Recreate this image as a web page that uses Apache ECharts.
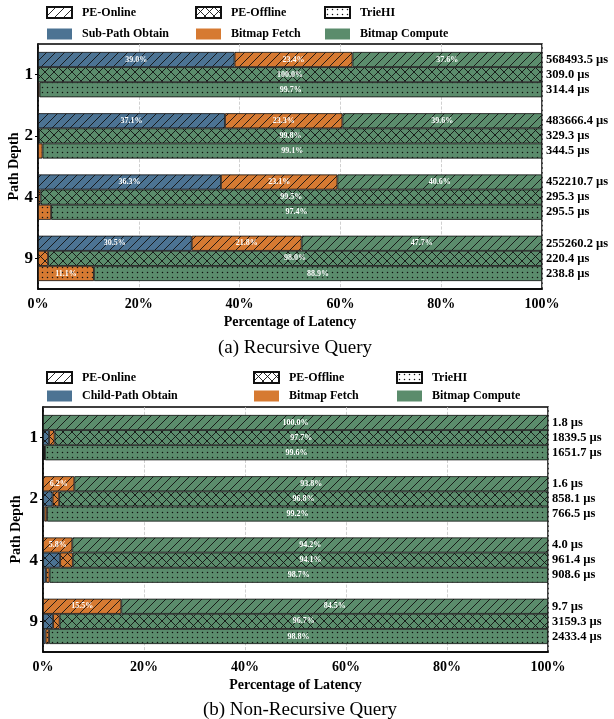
<!DOCTYPE html>
<html>
<head>
<meta charset="utf-8">
<script src="https://cdn.jsdelivr.net/npm/echarts@6/dist/echarts.min.js"></script>
<style>
  html, body { margin: 0; padding: 0; background: #fff; }
  #chart { width: 614px; height: 719px; }
</style>
</head>
<body>
<div id="chart"></div>
<script>
  const depths = ['1', '2', '4', '9']

  // (a) Recursive Query, percentages per stage
  const recOnlineObtain = [39.0, 37.1, 36.3, 30.5]
  const recOnlineFetch = [23.4, 23.3, 23.1, 21.8]
  const recOnlineCompute = [37.6, 39.6, 40.6, 47.7]
  const recOfflineObtain = [0, 0, 0, 0]
  const recOfflineFetch = [0, 0.2, 0.5, 2.0]
  const recOfflineCompute = [100.0, 99.8, 99.5, 98.0]
  const recTrieObtain = [0, 0, 0, 0]
  const recTrieFetch = [0.3, 0.9, 2.6, 11.1]
  const recTrieCompute = [99.7, 99.1, 97.4, 88.9]
  const recOnlineTotal = ['568493.5', '483666.4', '452210.7', '255260.2']
  const recOfflineTotal = ['309.0', '329.3', '295.3', '220.4']
  const recTrieTotal = ['314.4', '344.5', '295.5', '238.8']

  // (b) Non-Recursive Query
  const nrOnlineObtain = [0, 0, 0, 0]
  const nrOnlineFetch = [0, 6.2, 5.8, 15.5]
  const nrOnlineCompute = [100.0, 93.8, 94.2, 84.5]
  const nrOfflineObtain = [1.2, 1.9, 3.4, 2.0]
  const nrOfflineFetch = [1.1, 1.3, 2.5, 1.3]
  const nrOfflineCompute = [97.7, 96.8, 94.1, 96.7]
  const nrTrieObtain = [0.2, 0.3, 0.6, 0.5]
  const nrTrieFetch = [0.2, 0.5, 0.7, 0.7]
  const nrTrieCompute = [99.6, 99.2, 98.7, 98.8]
  const nrOnlineTotal = ['1.8', '1.6', '4.0', '9.7']
  const nrOfflineTotal = ['1839.5', '858.1', '961.4', '3159.3']
  const nrTrieTotal = ['1651.7', '766.5', '908.6', '2433.4']

  const FONT = '"Liberation Serif", "Times New Roman", serif'
  const BLUE = '#4c7393'
  const ORANGE = '#d67a32'
  const GREEN = '#5b8c6c'

  // hatch tiles drawn on a small canvas, used as pattern fill
  function tile(bg, kind) {
    let s = kind === 'dots' ? 5 : 9
    let c = document.createElement('canvas')
    c.width = s
    c.height = kind === 'dots' ? 5 : s
    let ctx = c.getContext('2d')
    ctx.fillStyle = bg
    ctx.fillRect(0, 0, c.width, c.height)
    ctx.strokeStyle = '#111'
    ctx.fillStyle = '#111'
    ctx.lineWidth = 0.9
    if (kind === 'dots') {
      ctx.beginPath()
      ctx.arc(2.5, 2.5, 0.75, 0, Math.PI * 2)
      ctx.fill()
      return c
    }
    for (let dx of [-s, 0, s]) {
      ctx.beginPath()
      ctx.moveTo(dx, s)
      ctx.lineTo(dx + s, 0)
      ctx.stroke()
      if (kind === 'cross') {
        ctx.beginPath()
        ctx.moveTo(dx, 0)
        ctx.lineTo(dx + s, s)
        ctx.stroke()
      }
    }
    return c
  }

  function pattern(bg, kind) {
    return { image: tile(bg, kind), repeat: 'repeat' }
  }

  function seg(grid, stack, name, color, vals) {
    return {
      type: 'bar',
      name: name,
      stack: grid + stack,
      xAxisIndex: grid,
      yAxisIndex: grid,
      barGap: '0%',
      barCategoryGap: '26%',
      silent: true,
      data: vals.map(v => v === 0 ? '-' : v),
      itemStyle: { color: color, borderColor: '#111', borderWidth: 0.8 },
      label: {
        show: true,
        position: 'inside',
        color: '#fff',
        fontSize: 8,
        fontWeight: 'bold',
        fontFamily: FONT,
        formatter: p => p.value >= 5 ? p.value.toFixed(1) + '%' : ''
      }
    }
  }

  function totalSeries(grid, stack, totals) {
    return {
      type: 'bar',
      name: grid + stack + 'total',
      stack: grid + stack,
      xAxisIndex: grid,
      yAxisIndex: grid,
      barGap: '0%',
      barCategoryGap: '26%',
      silent: true,
      data: totals.map(() => 0),
      itemStyle: { color: 'transparent', borderWidth: 0 },
      label: {
        show: true,
        position: 'right',
        distance: 4,
        color: '#000',
        fontSize: 12.5,
        fontWeight: 'bold',
        fontFamily: FONT,
        formatter: p => totals[p.dataIndex] + ' µs'
      }
    }
  }

  function group(grid, stack, kind, obtain, fetch, compute, totals) {
    return [
      seg(grid, stack, grid + stack + 'o', pattern(BLUE, kind), obtain),
      seg(grid, stack, grid + stack + 'f', pattern(ORANGE, kind), fetch),
      seg(grid, stack, grid + stack + 'c', pattern(GREEN, kind), compute),
      totalSeries(grid, stack, totals)
    ]
  }

  // empty series only there for the legend swatches
  function legendSeries(grid, name, color, border) {
    return {
      type: 'bar',
      name: name,
      stack: grid + 'online',
      xAxisIndex: grid,
      yAxisIndex: grid,
      data: [],
      itemStyle: { color: color, borderColor: '#111', borderWidth: border ? 0.8 : 0 }
    }
  }

  function legend(left, top, gap, names) {
    return {
      orient: 'vertical',
      left: left,
      top: top,
      padding: 0,
      itemGap: gap,
      itemWidth: 25,
      itemHeight: 11,
      icon: 'rect',
      selectedMode: false,
      data: names,
      textStyle: { fontFamily: FONT, fontWeight: 'bold', fontSize: 12, color: '#000', padding: [0, 0, 0, 5] }
    }
  }

  function xAxis(grid) {
    return {
      type: 'value',
      gridIndex: grid,
      min: 0,
      max: 100,
      interval: 20,
      name: 'Percentage of Latency',
      nameLocation: 'middle',
      nameGap: 26,
      nameTextStyle: { fontFamily: FONT, fontWeight: 'bold', fontSize: 14, color: '#000' },
      axisLine: { show: true, lineStyle: { color: '#000', width: 1.5 } },
      axisTick: { show: false },
      axisLabel: { formatter: '{value}%', fontFamily: FONT, fontWeight: 'bold', fontSize: 14, color: '#000', margin: 8 },
      splitLine: { show: true, lineStyle: { color: '#c4c4c4', type: 'dashed', width: 0.8 } }
    }
  }

  function yAxis(grid, gap) {
    return {
      type: 'category',
      gridIndex: grid,
      data: depths,
      inverse: true,
      name: 'Path Depth',
      nameLocation: 'middle',
      nameGap: gap,
      nameMoveOverlap: false,
      nameTextStyle: { fontFamily: FONT, fontWeight: 'bold', fontSize: 14, color: '#000' },
      axisLine: { show: true, lineStyle: { color: '#000', width: 1.5 } },
      axisTick: { show: true, alignWithLabel: true, length: 3, lineStyle: { color: '#000' } },
      axisLabel: { fontFamily: FONT, fontWeight: 'bold', fontSize: 17, color: '#000', margin: 5 },
      splitLine: { show: false }
    }
  }

  let myChart = echarts.init(document.getElementById('chart'))

  let series = [].concat(
    group(0, 'online', 'hatch', recOnlineObtain, recOnlineFetch, recOnlineCompute, recOnlineTotal),
    group(0, 'offline', 'cross', recOfflineObtain, recOfflineFetch, recOfflineCompute, recOfflineTotal),
    group(0, 'trie', 'dots', recTrieObtain, recTrieFetch, recTrieCompute, recTrieTotal),
    group(1, 'online', 'hatch', nrOnlineObtain, nrOnlineFetch, nrOnlineCompute, nrOnlineTotal),
    group(1, 'offline', 'cross', nrOfflineObtain, nrOfflineFetch, nrOfflineCompute, nrOfflineTotal),
    group(1, 'trie', 'dots', nrTrieObtain, nrTrieFetch, nrTrieCompute, nrTrieTotal),
    [
      legendSeries(0, 'PE-Online', pattern('#fff', 'hatch'), true),
      legendSeries(0, 'PE-Offline', pattern('#fff', 'cross'), true),
      legendSeries(0, 'TrieHI', pattern('#fff', 'dots'), true),
      legendSeries(0, 'Sub-Path Obtain', BLUE, false),
      legendSeries(0, 'Bitmap Fetch', ORANGE, false),
      legendSeries(0, 'Bitmap Compute', GREEN, false),
      legendSeries(1, 'Child-Path Obtain', BLUE, false)
    ]
  )

  myChart.setOption({
    animation: false,
    backgroundColor: '#fff',
    title: [
      { text: '(a) Recursive Query', left: 290, top: 334, textAlign: 'center',
        textStyle: { fontFamily: FONT, fontWeight: 'normal', fontSize: 19, color: '#000' } },
      { text: '(b) Non-Recursive Query', left: 295, top: 696, textAlign: 'center',
        textStyle: { fontFamily: FONT, fontWeight: 'normal', fontSize: 19, color: '#000' } }
    ],
    legend: [
      legend(46, 6, 9, ['PE-Online', 'Sub-Path Obtain']),
      legend(195, 6, 9, ['PE-Offline', 'Bitmap Fetch']),
      legend(324, 6, 9, ['TrieHI', 'Bitmap Compute']),
      legend(46, 371, 6, ['PE-Online', 'Child-Path Obtain']),
      legend(253, 371, 6, ['PE-Offline', 'Bitmap Fetch']),
      legend(396, 371, 6, ['TrieHI', 'Bitmap Compute'])
    ],
    grid: [
      { left: 38, top: 44, width: 504, height: 245, show: true, borderColor: '#000', borderWidth: 1.5, outerBoundsMode: 'none' },
      { left: 43, top: 407, width: 505, height: 245, show: true, borderColor: '#000', borderWidth: 1.5, outerBoundsMode: 'none' }
    ],
    xAxis: [xAxis(0), xAxis(1)],
    yAxis: [yAxis(0, 17), yAxis(1, 20)],
    series: series
  })
</script>
</body>
</html>
